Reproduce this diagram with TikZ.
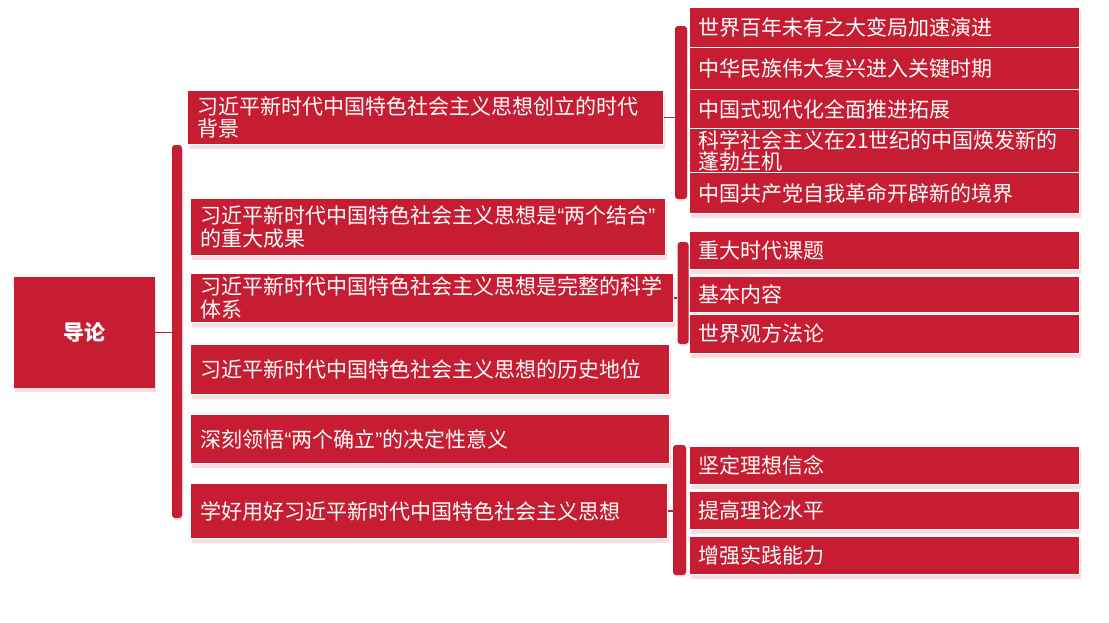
\documentclass[tikz,border=0pt]{standalone}
\usepackage{fontspec}
\newfontfamily\cjk{Noto Sans CJK SC}
\newfontfamily\lat{Liberation Sans}
\newcommand\myLQ{{\lat “}}
\newcommand\myRQ{{\lat ”}}
\usetikzlibrary{shadows}
\definecolor{crim}{HTML}{C61D32}
\definecolor{shd}{HTML}{E88A96}
\tikzset{
  box/.style={fill=crim, draw=white, line width=1pt, text=white, anchor=north west,
    font=\cjk\fontsize{21pt}{22.5pt}\selectfont, align=left, inner xsep=10pt, inner ysep=0pt,
    drop shadow={shadow xshift=1pt, shadow yshift=-4pt, opacity=0.3, fill=shd}},
  sub/.style={box, inner xsep=9pt, minimum width=390pt, text width=372pt},
  bar/.style={fill=crim, rounded corners=3pt, inner sep=0pt,
    drop shadow={shadow xshift=1pt, shadow yshift=-2pt, opacity=0.25, fill=shd}},
  conn/.style={draw=crim, line width=1.5pt}
}
\begin{document}
\begin{tikzpicture}[x=1pt, y=-1pt]
\useasboundingbox (0,0) rectangle (1109,622);
% root
\node[fill=crim, text=white, minimum width=141pt, minimum height=111pt, anchor=north west,
  font=\cjk\bfseries\fontsize{21pt}{24pt}\selectfont,
  drop shadow={shadow xshift=1pt, shadow yshift=-4pt, opacity=0.3, fill=shd}] (root) at (14,277) {导论};
% left bar
\node[bar, minimum width=10pt, minimum height=373pt] (bL) at (177,331.5) {};
% level 1
\node[box, minimum width=476pt, minimum height=54pt, text width=456pt] (a1) at (187,90) {习近平新时代中国特色社会主义思想创立的时代\\背景};
\node[box, minimum width=475pt, minimum height=57pt, text width=455pt] (a2) at (190,198) {习近平新时代中国特色社会主义思想是\myLQ 两个结合\myRQ\\的重大成果};
\node[box, minimum width=483pt, minimum height=49pt, text width=463pt] (a3) at (190,273) {习近平新时代中国特色社会主义思想是完整的科学\\体系};
\node[box, minimum width=479pt, minimum height=50pt, text width=459pt] (a4) at (190,344) {习近平新时代中国特色社会主义思想的历史地位};
\node[box, minimum width=479pt, minimum height=49pt, text width=459pt] (a5) at (190,414) {深刻领悟\myLQ 两个确立\myRQ 的决定性意义};
\node[box, minimum width=477pt, minimum height=55pt, text width=457pt] (a6) at (190,483) {学好用好习近平新时代中国特色社会主义思想};
% group bars
\node[bar, minimum width=12pt, minimum height=173pt] (b1) at (681,112.5) {};
\node[bar, minimum width=11pt, minimum height=102pt] (b2) at (683,293) {};
\node[bar, minimum width=13pt, minimum height=130pt] (b3) at (679.5,510) {};
% group 1
\node[sub, minimum height=40pt] (c1) at (689,7) {世界百年未有之大变局加速演进};
\node[sub, minimum height=42pt] (c2) at (689,47) {中华民族伟大复兴进入关键时期};
\node[sub, minimum height=39pt] (c3) at (689,89) {中国式现代化全面推进拓展};
\node[sub, minimum height=44pt, font=\cjk\fontsize{21pt}{21pt}\selectfont] (c4) at (689,128) {科学社会主义在21世纪的中国焕发新的\\蓬勃生机};
\node[sub, minimum height=41pt] (c5) at (689,172) {中国共产党自我革命开辟新的境界};
% group 2
\node[sub, minimum height=38pt] (d1) at (689,231) {重大时代课题};
\node[sub, minimum height=36pt] (d2) at (689,276) {基本内容};
\node[sub, minimum height=39pt] (d3) at (689,314) {世界观方法论};
% group 3
\node[sub, minimum height=38pt] (e1) at (689,446) {坚定理想信念};
\node[sub, minimum height=38pt] (e2) at (689,491) {提高理论水平};
\node[sub, minimum height=38pt] (e3) at (689,536) {增强实践能力};
% connectors
\draw[conn] (root.east) -- (root.east -| bL.west);
\draw[conn] (a1.east) -- (a1.east -| b1.west);
\draw[conn] (a3.east) -- (a3.east -| b2.west);
\draw[conn] (a6.east) -- (a6.east -| b3.west);
\end{tikzpicture}
\end{document}
